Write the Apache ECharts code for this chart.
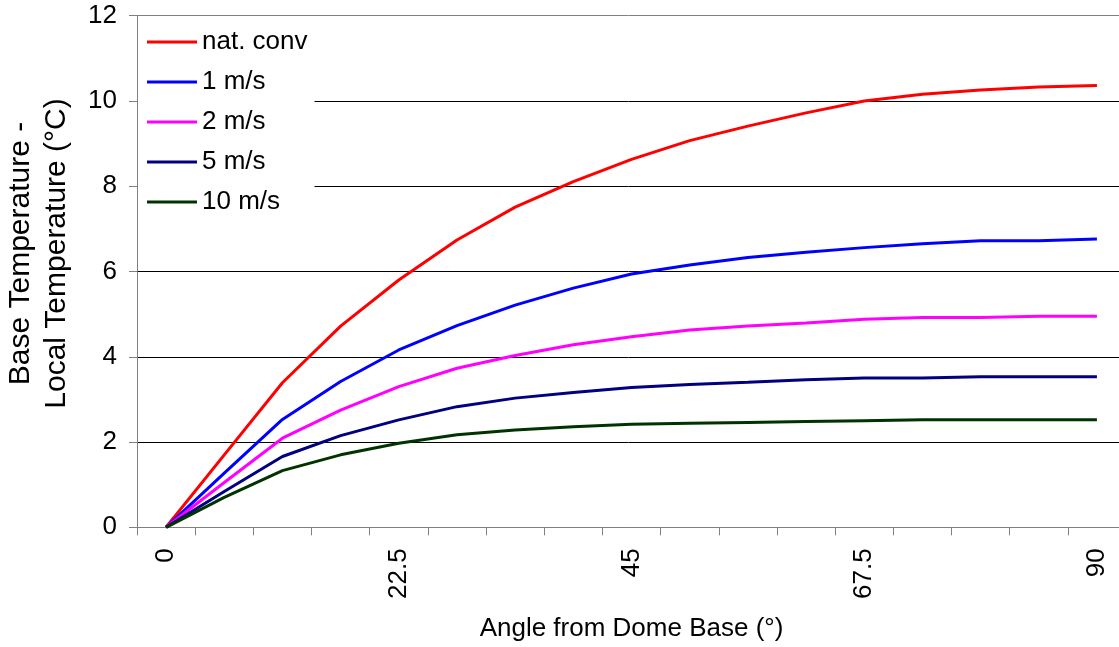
<!DOCTYPE html>
<html>
<head>
<meta charset="utf-8">
<script src="https://cdn.jsdelivr.net/npm/echarts@6/dist/echarts.min.js"></script>
<style>
  html, body { margin: 0; padding: 0; background: #fff; }
  #chart { width: 1119px; height: 647px; }
</style>
</head>
<body>
<div id="chart"></div>
<script>
// Angle from the dome base, in degrees (one category per 5.625°)
const angles = ['0', '5.625', '11.25', '16.875', '22.5', '28.125', '33.75', '39.375', '45',
                '50.625', '56.25', '61.875', '67.5', '73.125', '78.75', '84.375', '90'];

// Base temperature minus local temperature (°C) for each flow condition
const natConv = [0, 1.70, 3.39, 4.72, 5.80, 6.74, 7.51, 8.11, 8.63, 9.07, 9.41, 9.72, 10.00, 10.16, 10.26, 10.33, 10.36];
const wind1   = [0, 1.27, 2.53, 3.42, 4.16, 4.73, 5.21, 5.61, 5.94, 6.15, 6.33, 6.45, 6.56, 6.65, 6.72, 6.72, 6.76];
const wind2   = [0, 1.05, 2.09, 2.75, 3.30, 3.73, 4.03, 4.28, 4.47, 4.63, 4.72, 4.79, 4.88, 4.92, 4.92, 4.95, 4.95];
const wind5   = [0, 0.84, 1.66, 2.15, 2.52, 2.83, 3.03, 3.16, 3.28, 3.35, 3.40, 3.46, 3.50, 3.50, 3.53, 3.53, 3.53];
const wind10  = [0, 0.70, 1.33, 1.70, 1.97, 2.17, 2.28, 2.36, 2.42, 2.44, 2.46, 2.48, 2.50, 2.52, 2.52, 2.52, 2.52];

const seriesNames = ['nat. conv', '1 m/s', '2 m/s', '5 m/s', '10 m/s'];
const seriesData = [natConv, wind1, wind2, wind5, wind10];
const seriesColors = ['#FF0000', '#0000FF', '#FF00FF', '#000080', '#003300'];

const FONT = '"Liberation Sans", Arial, sans-serif';

const chart = echarts.init(document.getElementById('chart'), null, { renderer: 'canvas' });

chart.setOption({
  animation: false,
  backgroundColor: '#ffffff',
  textStyle: { fontFamily: FONT, color: '#000' },
  // plot area runs past the right edge of the canvas
  grid: { left: 137, top: 15.7, width: 989, height: 511.6, containLabel: false, outerBoundsMode: 'none' },
  legend: {
    orient: 'vertical',
    left: 138,
    top: 18,
    padding: [11, 7, 8, 9],
    backgroundColor: '#ffffff',
    icon: 'rect',
    itemWidth: 50,
    itemHeight: 3,
    itemGap: 14,
    textStyle: { fontSize: 26, fontFamily: FONT, color: '#000' },
    data: seriesNames
  },
  xAxis: {
    type: 'category',
    data: angles,
    boundaryGap: true,
    name: 'Angle from Dome Base (°)',
    nameLocation: 'middle',
    nameGap: 89,
    nameTextStyle: { fontSize: 26, fontFamily: FONT, color: '#000' },
    axisLine: { show: true, lineStyle: { color: '#808080', width: 1 } },
    axisTick: { show: true, interval: 0, length: 8, alignWithLabel: false, lineStyle: { color: '#808080' } },
    axisLabel: { interval: 3, rotate: 90, margin: 21, fontSize: 26, fontFamily: FONT, color: '#000' },
    splitLine: { show: false }
  },
  yAxis: {
    type: 'value',
    min: 0,
    max: 12,
    interval: 2,
    name: 'Base Temperature -\nLocal Temperature (°C)',
    nameLocation: 'middle',
    nameGap: 62,
    nameRotate: 90,
    nameTextStyle: { fontSize: 30, lineHeight: 36, fontFamily: FONT, color: '#000', padding: [0, 0, 0, 36] },
    axisLine: { show: true, lineStyle: { color: '#808080', width: 1 } },
    axisTick: { show: true, length: 8, lineStyle: { color: '#808080' } },
    axisLabel: { margin: 20, fontSize: 26, fontFamily: FONT, color: '#000' },
    splitLine: {
      show: true,
      lineStyle: { color: ['#808080', '#000', '#000', '#000', '#000', '#000', '#808080'], width: 1 }
    }
  },
  series: seriesNames.map((name, i) => ({
    name: name,
    type: 'line',
    data: seriesData[i],
    symbol: 'none',
    smooth: false,
    color: seriesColors[i],
    lineStyle: { color: seriesColors[i], width: 3 },
    z: 3
  }))
});
</script>
</body>
</html>
